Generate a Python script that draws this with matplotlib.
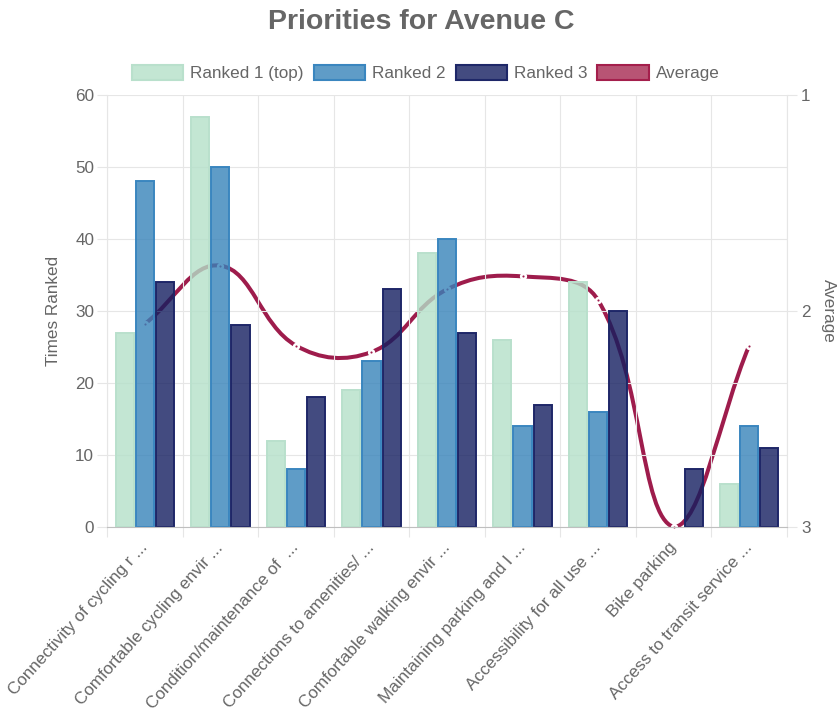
import numpy as np
import matplotlib.pyplot as plt
from matplotlib.colors import to_rgba
from matplotlib.path import Path
from matplotlib.patches import PathPatch, Patch

plt.rcParams['font.family'] = ['Liberation Sans', 'DejaVu Sans']

# Survey data
categories = [
    'Connectivity of cycling r ...',
    'Comfortable cycling envir ...',
    'Condition/maintenance of  ...',
    'Connections to amenities/ ...',
    'Comfortable walking envir ...',
    'Maintaining parking and l ...',
    'Accessibility for all use ...',
    'Bike parking',
    'Access to transit service ...',
]
ranked_1 = [27, 57, 12, 19, 38, 26, 34, 0, 6]
ranked_2 = [48, 50, 8, 23, 40, 14, 16, 0, 14]
ranked_3 = [34, 28, 18, 33, 27, 17, 30, 8, 11]
average = [2.06, 1.79, 2.16, 2.19, 1.90, 1.84, 1.95, 3.00, 2.16]

series_labels = ['Ranked 1 (top)', 'Ranked 2', 'Ranked 3', 'Average']
bar_fills = ['#b4e0c9', '#3783ba', '#141e60']
bar_edges = ['#b9e0cc', '#3a86bf', '#1e2768']
line_color = '#9e1c4c'
text_color = '#666666'
grid_color = '#e6e6e6'

fig = plt.figure(figsize=(8.38, 7.13), dpi=100)
ax = fig.add_axes([0.1277, 0.2609, 0.8114, 0.6059])
ax2 = ax.twinx()
# bars sit above the average line
ax.set_zorder(2)
ax2.set_zorder(1)
ax.patch.set_visible(False)

x = np.arange(len(categories))
width = 0.24
offsets = [-0.267, 0.0, 0.267]
for vals, off, fc, ec in zip([ranked_1, ranked_2, ranked_3], offsets, bar_fills, bar_edges):
    # empty bars get no outline
    lws = [1.4 if v > 0 else 0 for v in vals]
    ax.bar(x + off, vals, width, facecolor=to_rgba(fc, 0.8), edgecolor=ec, linewidth=lws)

ax.set_xlim(-0.5, len(categories) - 0.5)
ax.set_ylim(0, 60)
ax2.set_ylim(3, 1)

# smooth curve through the averages (bezier with tension 0.4)
pts = ax2.transData.transform(np.column_stack([x, average]))
bb = ax2.bbox
tension = 0.4
n = len(pts)
cp_in, cp_out = [], []
for i in range(n):
    prev = pts[max(i - 1, 0)]
    cur = pts[i]
    nxt = pts[min(i + 1, n - 1)]
    d01 = np.hypot(*(cur - prev))
    d12 = np.hypot(*(nxt - cur))
    tot = d01 + d12
    s01 = d01 / tot if tot else 0
    s12 = d12 / tot if tot else 0
    a = cur - tension * s01 * (nxt - prev)
    b = cur + tension * s12 * (nxt - prev)
    for c in (a, b):
        c[0] = np.clip(c[0], bb.x0, bb.x1)
        c[1] = np.clip(c[1], bb.y0, bb.y1)
    cp_in.append(a)
    cp_out.append(b)

verts = [pts[0]]
codes = [Path.MOVETO]
for i in range(1, n):
    verts += [cp_out[i - 1], cp_in[i], pts[i]]
    codes += [Path.CURVE4] * 3
verts = ax2.transData.inverted().transform(np.array(verts))
ax2.add_patch(PathPatch(Path(verts, codes), transform=ax2.transData, fill=False,
                        edgecolor=line_color, linewidth=2.9, capstyle='round'))
ax2.plot(x, average, 'o', ms=3.4, mfc=line_color, mec='white', mew=1.8, clip_on=False)

# grid and ticks
ax.set_yticks(range(0, 61, 10))
ax.yaxis.grid(True, color=grid_color, linewidth=0.8)
ax.set_xticks(x)
ax.set_xticks(np.arange(-0.5, len(categories), 1), minor=True)
ax.xaxis.grid(True, which='minor', color=grid_color, linewidth=0.8)
ax.set_xticklabels(categories, rotation=48, ha='right', va='center', rotation_mode='anchor')
ax.tick_params(axis='x', which='major', length=0, pad=13, labelsize=12.3, labelcolor=text_color)
ax.tick_params(axis='x', which='minor', length=7.2, color=grid_color, width=0.8)
ax.tick_params(axis='y', length=7.2, color=grid_color, width=0.8, pad=2,
               labelsize=12.3, labelcolor=text_color)
ax.set_axisbelow(True)

ax2.set_yticks([1, 2, 3])
ax2.tick_params(axis='y', length=7.2, color=grid_color, width=0.8, pad=3,
                labelsize=12.3, labelcolor=text_color)

for s in ['top', 'right']:
    ax.spines[s].set_visible(False)
ax.spines['left'].set_color(grid_color)
ax.spines['left'].set_linewidth(0.8)
ax.spines['bottom'].set_color('#bfbfbf')
ax.spines['bottom'].set_linewidth(0.8)
for s in ['top', 'left', 'bottom']:
    ax2.spines[s].set_visible(False)
ax2.spines['right'].set_color(grid_color)
ax2.spines['right'].set_linewidth(0.8)

ax.set_ylabel('Times Ranked', fontsize=12.3, color=text_color, labelpad=10)
ax2.set_ylabel('Average', fontsize=12.3, color=text_color, rotation=270, labelpad=18)

fig.text(0.503, 1 - 22 / 713, 'Priorities for Avenue C', ha='center', va='center',
         fontsize=20.5, fontweight='bold', color=text_color)

handles = [Patch(facecolor=to_rgba(fc, 0.8), edgecolor=ec, linewidth=1.5)
           for fc, ec in zip(bar_fills, bar_edges)]
handles.append(Patch(facecolor='#b85474', edgecolor='#a41f4c', linewidth=1.5))
fig.legend(handles, series_labels, loc='center', bbox_to_anchor=(0.508, 1 - 73 / 713),
           ncol=4, frameon=False, fontsize=12.3, labelcolor=text_color,
           handlelength=3.0, handleheight=1.05, handletextpad=0.4, columnspacing=0.6)

fig.savefig('out.png', dpi=100)
